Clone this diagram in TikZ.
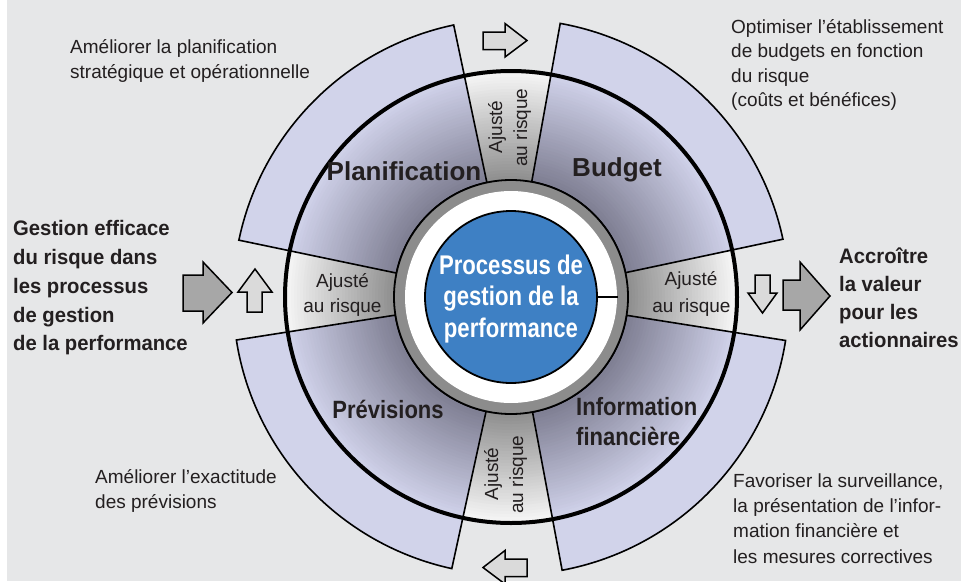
\documentclass[tikz,border=0pt]{standalone}
\usepackage{fontspec}
\setmainfont{Liberation Sans}
\newfontfamily\condA[FakeStretch=0.965]{Liberation Sans}
\newfontfamily\condB[FakeStretch=0.88]{Liberation Sans}
\newfontfamily\condC[FakeStretch=0.82]{Liberation Sans}
\usetikzlibrary{calc}
\definecolor{bg}{HTML}{E6E7E8}
\definecolor{band}{HTML}{D1D3EA}
\definecolor{secin}{HTML}{7E7E92}
\definecolor{secout}{HTML}{D0D2EA}
\definecolor{gapin}{HTML}{8E8E8E}
\definecolor{gapout}{HTML}{F6F6F6}
\definecolor{ringgray}{HTML}{8C8C8C}
\definecolor{blueone}{HTML}{3E80C4}
\definecolor{txt}{HTML}{231F20}
\definecolor{bigarrow}{HTML}{A7A7A7}
\definecolor{smallarrow}{HTML}{DADADA}
\newcommand\annsec[4]{(#1:#3) -- (#1:#4) arc[start angle=#1, end angle=#2, radius=#4] -- (#2:#3) arc[start angle=#2, end angle=#1, radius=#3] -- cycle}
\tikzset{
  outl/.style={draw=black, line width=1.6pt, line join=miter},
  bigarr/.style={draw=black, line width=1.5pt, fill=bigarrow, line join=miter},
  smallarr/.style={draw=black, line width=1.5pt, fill=smallarrow, line join=miter},
  reg/.style={text=txt, inner sep=0pt, font=\fontsize{19}{25}\selectfont},
  boldL/.style={text=txt, inner sep=0pt, font=\condA\bfseries\fontsize{21}{25}\selectfont},
  sect/.style={text=txt, inner sep=0pt, font=\bfseries\fontsize{26}{30}\selectfont},
  sectc/.style={text=txt, inner sep=0pt, font=\condB\bfseries\fontsize{25}{30}\selectfont},
  ctr/.style={text=white, inner sep=0pt, font=\condC\bfseries\fontsize{27}{31}\selectfont},
}
\begin{document}
\begin{tikzpicture}[x=1pt,y=-1pt]
\useasboundingbox (0,0) rectangle (961,581);
\fill[white] (0,0) rectangle (961,581);
\fill[bg] (7,0) rectangle (961,581);

\begin{scope}[shift={(511,297)}]
  % outer bands
  \foreach \a/\b in {280.2/348, 9/79.4, 102.3/171.1, 191.8/258.1}{
    \fill[band] \annsec{\a}{\b}{110}{278};
  }
  % gap gradient over the whole disc
  \foreach \i in {0,...,38}{
    \pgfmathsetmacro\rr{226-3*\i}
    \pgfmathtruncatemacro\pp{max(0,100-100*\i/36)}
    \fill[gapout!\pp!gapin] (0,0) circle (\rr);
  }
  % sector gradient
  \begin{scope}
    \clip \annsec{280.2}{348}{100}{226} \annsec{9}{79.4}{100}{226}
          \annsec{102.3}{171.1}{100}{226} \annsec{191.8}{258.1}{100}{226};
    \foreach \i in {0,...,38}{
      \pgfmathsetmacro\rr{226-3*\i}
      \pgfmathtruncatemacro\pp{max(0,100-100*\i/36)}
      \fill[secout!\pp!secin] (0,0) circle (\rr);
    }
  \end{scope}
  % main circle
  \draw[line width=4pt] (0,0) circle (226);
  % sector outlines
  \foreach \a/\b in {280.2/348, 9/79.4, 102.3/171.1, 191.8/258.1}{
    \draw[outl] \annsec{\a}{\b}{117}{278};
  }
  % inner rings
  \draw[fill=ringgray, line width=1.8pt] (0,0) circle (117);
  \fill[white] (0,0) circle (106);
  \draw[fill=blueone, line width=1.8pt] (0,0) circle (86);
  \draw[line width=2pt] (0:86) -- (0:107);
\end{scope}

% centre text
\node[ctr, anchor=base] (c1) at (511,274) {Processus de};
\node[ctr, anchor=base] (c2) at (511,305.5) {gestion de la};
\node[ctr, anchor=base] (c3) at (511,337) {performance};

% sector labels
\node[sect, anchor=base] (plan) at (404,180) {Planification};
\node[sect, anchor=base] (budg) at (617,176) {Budget};
\node[sectc, anchor=base] (prev) at (388,418) {Prévisions};
\node[sectc, anchor=base west] (inf1) at (576,415) {Information};
\node[sectc, anchor=base west] (inf2) at (576,445) {financière};

% gap labels
\node[reg, anchor=base] (gl1) at (342.5,287) {Ajusté};
\node[reg, anchor=base] (gl2) at (342.5,312) {au risque};
\node[reg, anchor=base] (gr1) at (691,285) {Ajusté};
\node[reg, anchor=base] (gr2) at (691.5,312) {au risque};
\node[reg, anchor=base, rotate=90] (gt1) at (502,127) {Ajusté};
\node[reg, anchor=base, rotate=90] (gt2) at (527,127.5) {au risque};
\node[reg, anchor=base, rotate=90] (gb1) at (498,474) {Ajusté};
\node[reg, anchor=base, rotate=90] (gb2) at (523,474.5) {au risque};

% arrows
\draw[bigarr] (183,275) -- (203,275) -- (203,262) -- (232,292.5) -- (203,323) -- (203,311) -- (183,311) -- cycle;
\draw[smallarr] (247,312) -- (247,292) -- (238,292) -- (255,269) -- (272,292) -- (262,292) -- (262,312) -- cycle;
\draw[smallarr] (755,275) -- (770,275) -- (770,293) -- (777,293) -- (762.5,313) -- (748,293) -- (755,293) -- cycle;
\draw[bigarr] (783,280) -- (800,280) -- (800,262) -- (830,296) -- (800,330) -- (800,310) -- (783,310) -- cycle;
\draw[smallarr] (483,32) -- (505,32) -- (505,23.5) -- (527,40.5) -- (505,57) -- (505,49.5) -- (483,49.5) -- cycle;
\draw[smallarr] (527,559) -- (505,559) -- (505,550.5) -- (483,567.5) -- (505,584) -- (505,576.5) -- (527,576.5) -- cycle;

% text blocks
\node[reg, anchor=base west] (a1) at (70,53) {Améliorer la planification};
\node[reg, anchor=base west] (a2) at (70,78.5) {stratégique et opérationnelle};

\node[reg, anchor=base west] (b1) at (731,33) {Optimiser l’établissement};
\node[reg, anchor=base west] (b2) at (731,57.5) {de budgets en fonction};
\node[reg, anchor=base west] (b3) at (731,82) {du risque};
\node[reg, anchor=base west] (b4) at (731,106.5) {(coûts et bénéfices)};

\node[reg, anchor=base west] (e1) at (95,483) {Améliorer l’exactitude};
\node[reg, anchor=base west] (e2) at (95,508) {des prévisions};

\node[reg, anchor=base west] (f1) at (733,487) {Favoriser la surveillance,};
\node[reg, anchor=base west] (f2) at (733,512.5) {la présentation de l’infor-};
\node[reg, anchor=base west] (f3) at (733,537.5) {mation financière et};
\node[reg, anchor=base west] (f4) at (733,563) {les mesures correctives};

\node[boldL, anchor=base west] (l1) at (13,235) {Gestion efficace};
\node[boldL, anchor=base west] (l2) at (13,264) {du risque dans};
\node[boldL, anchor=base west] (l3) at (13,293) {les processus};
\node[boldL, anchor=base west] (l4) at (13,322) {de gestion};
\node[boldL, anchor=base west] (l5) at (13,350.5) {de la performance};

\node[boldL, anchor=base west] (r1) at (839,263) {Accroître};
\node[boldL, anchor=base west] (r2) at (839,291) {la valeur};
\node[boldL, anchor=base west] (r3) at (839,319.5) {pour les};
\node[boldL, anchor=base west] (r4) at (839,347) {actionnaires};
\end{tikzpicture}
\end{document}
